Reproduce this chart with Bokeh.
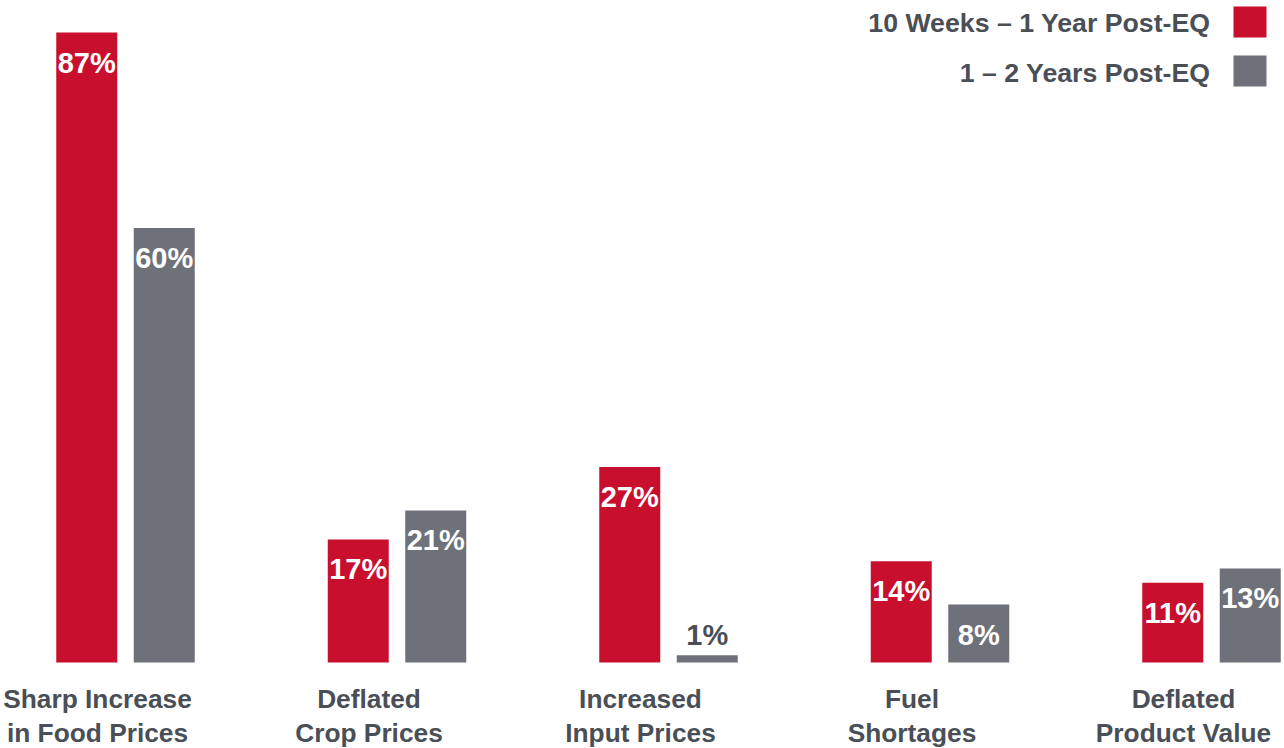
from bokeh.plotting import figure
from bokeh.models import ColumnDataSource, Range1d
from bokeh.core.properties import value
from bokeh.embed import file_html
from bokeh.resources import INLINE

# ---- data ----
categories = ["Sharp Increase\nin Food Prices", "Deflated\nCrop Prices", "Increased\nInput Prices",
              "Fuel\nShortages", "Deflated\nProduct Value"]
series_names = ["10 Weeks \u2013 1 Year Post-EQ", "1 \u2013 2 Years Post-EQ"]
early = [87, 17, 27, 14, 11]
later = [60, 21, 1, 8, 13]

RED = "#C8102E"
GRAY = "#6E7179"
TXT = "#4A4F57"
FONT = value("Liberation Sans")

W, H = 1284, 748
GROUP_PX = 271.5      # pixels per group
X0_PX = 125.0         # pixel of first group centre
BASE_PX = 662.0       # baseline pixel (from top)
PCT_PX = 7.24         # pixels per percent

def px_x(px):
    return (px - X0_PX) / GROUP_PX

def px_y(py):
    return (BASE_PX - py) / PCT_PX

p = figure(width=W, height=H, output_backend="svg", toolbar_location=None,
           x_axis_type=None, y_axis_type=None, min_border=0,
           x_range=Range1d(px_x(0), px_x(W)), y_range=Range1d(px_y(H), px_y(0)))
p.outline_line_color = None
p.grid.visible = False
p.background_fill_color = "white"
p.border_fill_color = "white"

idx = list(range(len(categories)))
off = 38.75 / GROUP_PX
bw = 61 / GROUP_PX

for vals, dx, color in [(early, -off, RED), (later, off, GRAY)]:
    xs = [i + dx for i in idx]
    p.vbar(x=xs, top=vals, bottom=0, width=bw, fill_color=color, line_color=None)
    inside = [v >= 5 for v in vals]
    ys = [v - 30 / PCT_PX if ins else v + 20 / PCT_PX for v, ins in zip(vals, inside)]
    cols = ["white" if ins else TXT for ins in inside]
    src = ColumnDataSource(dict(x=xs, y=ys, t=[f"{v}%" for v in vals], c=cols))
    p.text(x="x", y="y", text="t", source=src, text_color="c", text_font=FONT,
           text_font_size="29px", text_font_style="bold", text_align="center",
           text_baseline="middle")

# category labels (two lines)
line1 = [c.split("\n")[0] for c in categories]
line2 = [c.split("\n")[1] for c in categories]
lx = [i - 28 / GROUP_PX for i in idx]
for lines, py in [(line1, 698), (line2, 732)]:
    p.text(x=lx, y=[px_y(py)] * len(lx), text=lines, text_color=TXT, text_font=FONT,
           text_font_size="26.3px", text_font_style="bold", text_align="center",
           text_baseline="middle")

# legend
leg_y = [px_y(22), px_y(72)]
p.text(x=[px_x(1210)] * 2, y=leg_y, text=series_names, text_color=TXT, text_font=FONT,
       text_font_size="26.7px", text_font_style="bold", text_align="right",
       text_baseline="middle")
p.rect(x=[px_x(1249.5)] * 2, y=[px_y(21.5), px_y(70.5)], width=33, height=31,
       width_units="screen", height_units="screen", fill_color=[RED, GRAY], line_color=None)

open("out.html", "w").write(file_html(p, INLINE))
